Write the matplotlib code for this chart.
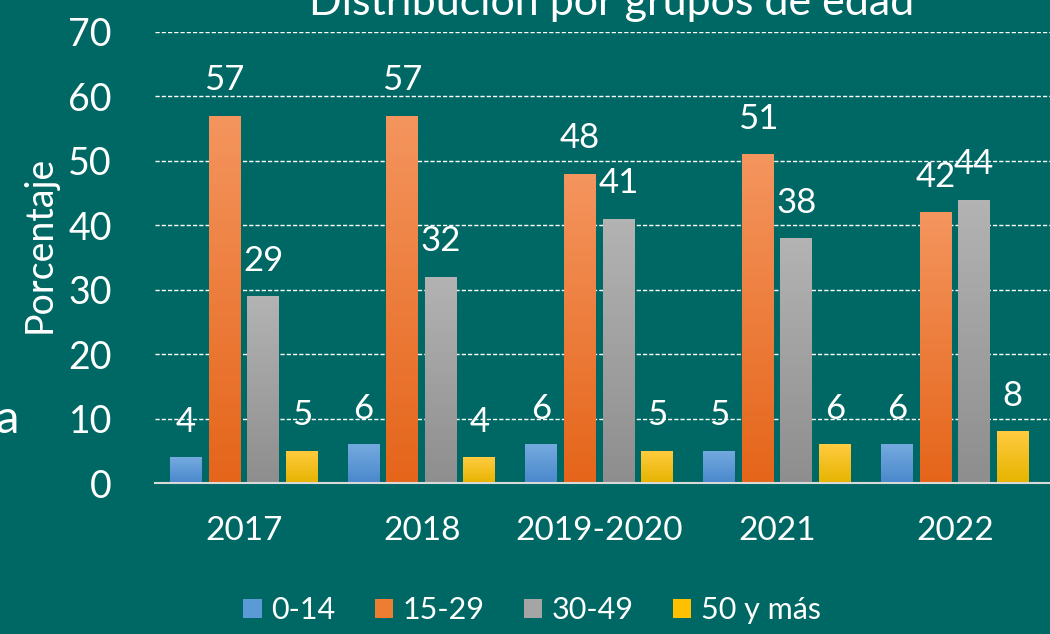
import numpy as np
import matplotlib
matplotlib.use("Agg")
import matplotlib.pyplot as plt
from matplotlib.colors import LinearSegmentedColormap

# -------------------------------
# DATA
# -------------------------------
years = ["2017", "2018", "2019-2020", "2021", "2022"]
groups = ["0-14", "15-29", "30-49", "50 y más"]
v_0_14 = [4, 6, 6, 5, 6]
v_15_29 = [57, 57, 48, 51, 42]
v_30_49 = [29, 32, 41, 38, 44]
v_50_mas = [5, 4, 5, 6, 8]
series = [v_0_14, v_15_29, v_30_49, v_50_mas]

# gradient colours (top, bottom) per group
grad = [("#74aadf", "#4a88cc"),
        ("#f4955e", "#e5651a"),
        ("#b3b3b3", "#8e8e8e"),
        ("#ffcb40", "#e6b400")]
solid = ["#5b9bd5", "#ed7d31", "#a5a5a5", "#ffc000"]

BG = "#006864"
plt.rcParams['font.family'] = ['Lato', 'DejaVu Sans']

fig = plt.figure(figsize=(10.5, 6.34), dpi=100, facecolor=BG)
ax = fig.add_axes([155 / 1050, 1 - 483 / 634, 1 - 155 / 1050, (483 - 32) / 634])
ax.set_facecolor(BG)

x = np.arange(len(years))
width = 0.18
offsets = [-0.326, -0.109, 0.108, 0.325]

handles = []
for vals, off, (ctop, cbot), col in zip(series, offsets, grad, solid):
    bars = ax.bar(x + off, vals, width, color=col, zorder=3)
    handles.append(bars)
    cmap = LinearSegmentedColormap.from_list("g", [cbot, ctop])
    for b in bars:
        bx, by = b.get_x(), b.get_y()
        bw, bh = b.get_width(), b.get_height()
        im = ax.imshow(np.linspace(0, 1, 64).reshape(-1, 1), cmap=cmap,
                       origin="lower", aspect="auto",
                       extent=[bx, bx + bw, by, by + bh], zorder=4)
        im.set_clip_path(b)
    for xi, v in zip(x + off, vals):
        ax.annotate(str(v), (xi, v), xytext=(0, 14), textcoords="offset points",
                    ha="center", va="bottom", color="white", fontsize=25,
                    zorder=5)

ax.set_xlim(-0.5, 4.535)
ax.set_ylim(0, 70)
ax.set_yticks(range(0, 71, 10))
ax.set_xticks(x)
ax.set_xticklabels(years)
ax.tick_params(axis="y", length=0, pad=31, labelsize=27, labelcolor="white")
ax.tick_params(axis="x", length=0, pad=24, labelsize=24, labelcolor="white")

ax.yaxis.grid(True, color="white", linestyle=(0, (3, 1.5)), linewidth=1, zorder=0)
ax.set_axisbelow(True)
for s in ["top", "right", "left"]:
    ax.spines[s].set_visible(False)
ax.spines["bottom"].set_color("#d9d9d9")
ax.spines["bottom"].set_linewidth(1.5)
ax.spines["bottom"].set_zorder(6)

# title (cut off at the top in the original) and side texts
fig.text(612 / 1050, 1 - 15 / 634, "Distribución por grupos de edad",
         ha="center", va="baseline", color="white", fontsize=31)
fig.text(40 / 1050, 1 - 244 / 634, "Porcentaje", rotation=90,
         ha="center", va="center", color="white", fontsize=27)
fig.text(19 / 1050, 1 - 433 / 634, "a", ha="right", va="baseline",
         color="white", fontsize=34)

leg = fig.legend([h[0] for h in handles], groups, loc="center",
                 bbox_to_anchor=(532 / 1050, 1 - 610 / 634), ncol=4,
                 frameon=False, fontsize=22, labelcolor="white",
                 handlelength=0.6, handleheight=0.6, handletextpad=0.3,
                 columnspacing=1.3)

fig.savefig("out.png", dpi=100, facecolor=BG)
